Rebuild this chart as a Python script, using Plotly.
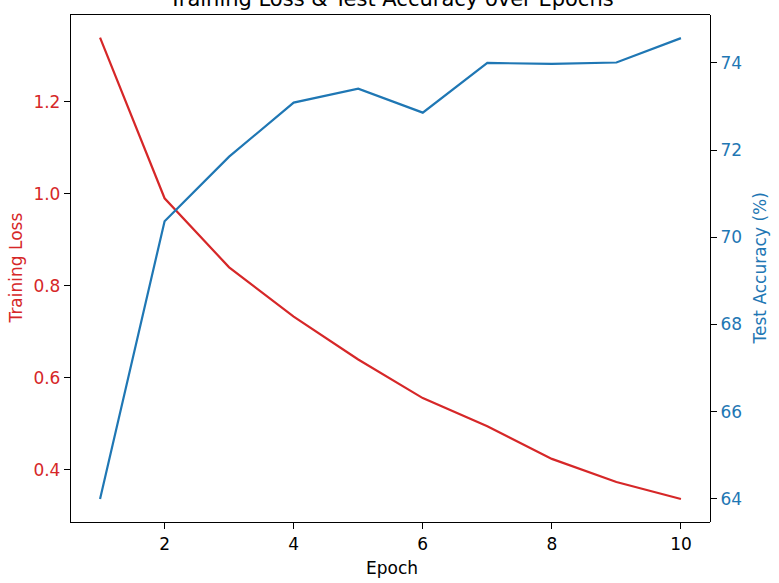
import plotly.graph_objects as go

# values
epochs = [1, 2, 3, 4, 5, 6, 7, 8, 9, 10]
train_loss = [1.339, 0.990, 0.840, 0.733, 0.640, 0.556, 0.495, 0.424, 0.374, 0.337]
test_acc = [64.00, 70.37, 71.85, 73.09, 73.41, 72.86, 74.00, 73.98, 74.01, 74.57]

loss_ticks = [0.4, 0.6, 0.8, 1.0, 1.2]
acc_ticks = [64, 66, 68, 70, 72, 74]
epoch_ticks = [2, 4, 6, 8, 10]

red = "#d62728"
blue = "#1f77b4"
font = "DejaVu Sans, Liberation Sans, sans-serif"

fig = go.Figure()

fig.add_trace(go.Scatter(
    x=epochs, y=train_loss, mode="lines", name="Training Loss",
    line=dict(color=red, width=2.2), yaxis="y"
))
fig.add_trace(go.Scatter(
    x=epochs, y=test_acc, mode="lines", name="Test Accuracy",
    line=dict(color=blue, width=2.2), yaxis="y2"
))

axis_common = dict(
    showgrid=False, zeroline=False, showline=True, linecolor="black", linewidth=1.3,
    ticks="outside", ticklen=6, tickwidth=1.2, tickcolor="black", automargin=False,
)

# axis titles are drawn as annotations so they don't push the plot margins
labels = [
    dict(text="Epoch", x=0.5, y=0, xshift=1, yshift=-46, textangle=0, color="black"),
    dict(text="Training Loss", x=0, y=0.5, xshift=-56, yshift=0, textangle=-90, color=red),
    dict(text="Test Accuracy (%)", x=1, y=0.5, xshift=49, yshift=0, textangle=-90, color=blue),
]
annots = [dict(
    text=l["text"], xref="paper", yref="paper", x=l["x"], y=l["y"],
    xanchor="center", yanchor="middle", xshift=l["xshift"], yshift=l["yshift"],
    textangle=l["textangle"], showarrow=False,
    font=dict(size=17, color=l["color"], family=font),
) for l in labels]

annots.append(dict(
    text="Training Loss & Test Accuracy over Epochs",
    xref="paper", yref="paper", x=0.5, y=1, xanchor="center", yanchor="bottom",
    yshift=2, showarrow=False, font=dict(size=21, color="black", family=font),
))

fig.update_layout(
    width=779, height=583,
    margin=dict(l=71, r=69, t=15, b=61),
    paper_bgcolor="white", plot_bgcolor="white",
    showlegend=False,
    font=dict(family=font, size=17, color="black"),
    xaxis=dict(
        axis_common, mirror=True, range=[0.55, 10.45], tickvals=epoch_ticks,
        domain=[0, 1],
        tickfont=dict(size=17, color="black"),
    ),
    yaxis=dict(
        axis_common, range=[0.287, 1.388], tickvals=loss_ticks,
        tickformat=".1f",
        tickfont=dict(size=17, color=red),
    ),
    yaxis2=dict(
        axis_common, overlaying="y", side="right", anchor="free", position=1,
        range=[63.47, 75.1],
        tickvals=acc_ticks,
        tickfont=dict(size=17, color=blue),
    ),
    annotations=annots,
)

# the page body has an 8px default margin; drop it so the figure sits at 0,0
fig.write_html("out.html", config={"displayModeBar": False},
               post_script="document.body.style.margin='0px';")
